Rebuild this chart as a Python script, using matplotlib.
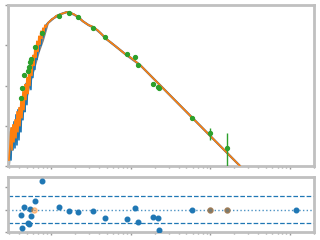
import numpy as np
import matplotlib
matplotlib.use("Agg")
import matplotlib.pyplot as plt
from matplotlib.ticker import LogLocator, NullLocator, NullFormatter, FixedLocator

# ---- model spectrum (wavelength in micron, flux in arbitrary units) ----
wave = [0.2985, 0.3072, 0.3162, 0.3255, 0.3350, 0.3447, 0.3548, 0.3652, 0.3758, 0.3868,
        0.3981, 0.4097, 0.4217, 0.4340, 0.4467, 0.4597, 0.4732, 0.4870, 0.5012, 0.5158,
        0.5309, 0.5464, 0.5623, 0.5788, 0.5957, 0.6131, 0.6310, 0.6494, 0.6683, 0.6879,
        0.7079, 0.7286, 0.7499, 0.7718, 0.7943, 0.8175, 0.8414, 0.8660, 0.917, 0.972,
        1.029, 1.090, 1.155, 1.223, 1.334, 1.454, 1.585, 1.679, 1.778, 1.940,
        2.113, 2.303, 2.512, 2.738, 2.985, 3.255, 3.548, 3.868, 4.217, 4.597,
        5.012, 5.623, 6.494, 7.499, 8.660, 10.0, 13.34, 17.78, 23.71, 31.62,
        42.17, 56.23, 74.99, 100.0, 133.4, 177.8, 251.2]

smooth_part = [35.48, 39.81, 44.67, 47.32, 53.09, 56.23, 59.57, 63.10, 66.83, 66.83,
               63.10, 59.57, 53.09, 47.32, 39.81, 35.48, 31.62, 29.85, 26.61, 23.71,
               19.95, 16.79, 14.13, 11.89, 9.441, 7.499, 5.957, 5.012, 3.162, 1.778,
               1.0, 0.562, 0.316, 0.178, 0.1, 0.0562, 0.0316, 0.0178, 0.00891]

flux_blue = [0.0100, 0.0708, 0.0141, 0.0891, 0.0251, 0.126, 0.0282, 0.188, 0.0335, 0.251,
             0.0447, 0.282, 0.0708, 0.447, 0.141, 0.596, 0.224, 1.122, 0.335, 1.413,
             1.0, 2.512, 0.794, 3.981, 1.585, 5.623, 2.512, 7.943, 4.467, 11.22,
             7.079, 15.85, 10.0, 21.13, 15.85, 25.12, 22.39, 31.62] + smooth_part

flux_orange = [0.0141, 0.0335, 0.0891, 0.0251, 0.106, 0.0398, 0.141, 0.0501, 0.224, 0.0708,
               0.282, 0.1, 0.447, 0.158, 0.708, 0.251, 1.059, 0.447, 1.585, 0.631,
               2.818, 1.0, 3.981, 1.778, 5.623, 3.162, 8.913, 5.012, 12.59, 7.079,
               16.79, 10.59, 22.39, 14.96, 26.61, 21.13, 31.62, 28.18] + smooth_part

wave_model = [0.2985, 0.3162, 0.3548, 0.3981, 0.4467, 0.5012, 0.5623, 0.6310, 0.7079, 0.7943,
              0.917, 1.090, 1.334, 1.585, 1.778, 2.113, 2.512, 2.985, 3.548, 4.217,
              5.012, 6.494, 8.660, 13.34, 23.71, 42.17, 74.99, 133.4, 251.2, 300.0]
flux_model = [0.0112, 0.0447, 0.0891, 0.158, 0.282, 0.562, 1.41, 3.16, 7.08, 13.3,
              35.5, 47.3, 59.6, 66.8, 63.1, 53.1, 39.8, 31.6, 26.6, 19.95,
              14.1, 9.44, 5.96, 3.16, 1.0, 0.316, 0.1, 0.0316, 0.00891, 0.0063]

# ---- photometry ----
phot_wave = [0.4217, 0.4340, 0.4597, 0.5158, 0.5309, 0.5464, 0.5623, 0.6310, 0.7718, 1.259,
             1.679, 2.175, 3.350, 4.732, 8.913, 11.22, 12.23, 19.39, 22.39, 23.04,
             59.57, 100.0, 163.1, 1189.0]
phot_flux = [0.501, 0.891, 1.778, 2.239, 2.818, 3.758, 4.467, 8.913, 19.95, 53.09,
             63.10, 50.12, 26.61, 15.85, 5.957, 5.012, 3.162, 1.122, 0.944, 0.891,
             0.158, 0.0668, 0.0282, 0.003]
phot_err_lo = [0.02, 0.03, 0.05, 0.05, 0.06, 0.1, 0.1, 0.3, 0.6, 1.5,
               1.5, 1.2, 0.8, 0.4, 0.2, 0.15, 0.1, 0.08, 0.05, 0.04,
               0.01, 0.022, 0.0232, 0.001]
phot_err_hi = [0.02, 0.03, 0.05, 0.05, 0.06, 0.1, 0.1, 0.3, 0.6, 1.5,
               1.5, 1.2, 0.8, 0.4, 0.2, 0.15, 0.1, 0.08, 0.05, 0.04,
               0.01, 0.0223, 0.0386, 0.001]
residual = [-0.22, -0.80, 0.13, -0.58, -0.62, 0.04, -0.27, 0.40, 1.29, 0.13,
            -0.04, -0.09, -0.04, -0.36, -0.40, 0.09, -0.53, -0.31, -0.36, -0.89,
            0.0, 0.0, 0.0, 0.0]
limit_wave = [0.6131, 100.0, 163.1]
limit_resid = [0.0, 0.0, 0.0]

band = 0.6

fig = plt.figure(figsize=(3.2, 2.4), dpi=100)
ax1 = fig.add_axes([0.025, 0.308, 0.956, 0.671])
ax2 = fig.add_axes([0.025, 0.033, 0.956, 0.229])

ax1.plot(wave_model, flux_model, color="gray", lw=1.6, zorder=1)
ax1.plot(wave, flux_blue, color="C0", lw=1.2, zorder=2)
ax1.plot(wave, flux_orange, color="C1", lw=1.2, zorder=3)
ax1.errorbar(phot_wave, phot_flux, yerr=[phot_err_lo, phot_err_hi], fmt="o",
             color="C2", ms=2.8, lw=1, capsize=0, zorder=4)

ax1.set_xscale("log")
ax1.set_yscale("log")
ax1.set_xlim(0.29, 2000)
ax1.set_ylim(0.01, 100)

ax2.plot(phot_wave, residual, "o", color="C0", ms=3.3, zorder=3)
ax2.plot(limit_wave, limit_resid, "o", color="C1", ms=3.8, alpha=0.4, zorder=4)
ax2.axhline(0, color="C0", ls=":", lw=1, alpha=0.8)
ax2.axhline(band, color="C0", ls="--", lw=0.9)
ax2.axhline(-band, color="C0", ls="--", lw=0.9)
ax2.set_xscale("log")
ax2.set_xlim(0.29, 2000)
ax2.set_ylim(-1.0, 1.45)

for ax in (ax1, ax2):
    for s in ax.spines.values():
        s.set_color("#c0c0c0")
        s.set_linewidth(2)
    ax.xaxis.set_major_locator(LogLocator(base=10, numticks=10))
    ax.xaxis.set_minor_locator(LogLocator(base=10, subs=np.arange(2, 10), numticks=20))
    ax.xaxis.set_minor_formatter(NullFormatter())
    ax.tick_params(which="both", direction="out", color="#999999", labelleft=False,
                   labelbottom=False)
    ax.tick_params(which="major", length=2.5, width=1)
    ax.tick_params(which="minor", length=1.5, width=1)

ax1.yaxis.set_major_locator(FixedLocator([0.01, 0.1, 1, 10, 100]))
ax1.yaxis.set_minor_locator(NullLocator())
ax2.yaxis.set_major_locator(FixedLocator([-1, 0, 1]))

fig.savefig("out.png", dpi=100)
